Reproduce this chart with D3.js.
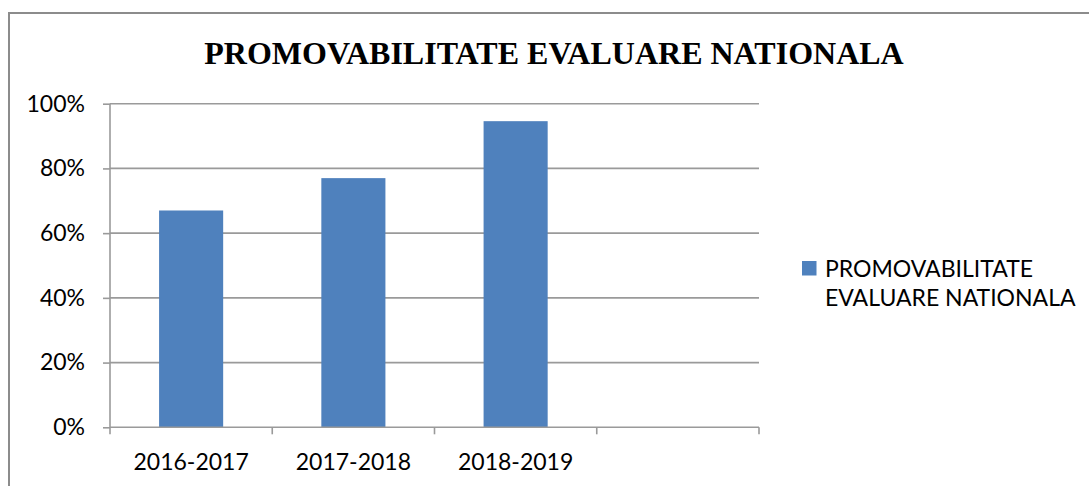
<!DOCTYPE html>
<html><head><meta charset="utf-8">
<script src="https://cdn.jsdelivr.net/npm/d3@7"></script>
<style>body{margin:0;background:#fff}svg{display:block}</style>
</head><body>
<script>
const categories = ["2016-2017", "2017-2018", "2018-2019", ""];
const values = [0.67, 0.77, 0.946, null];
const yTicks = [0, 0.2, 0.4, 0.6, 0.8, 1.0];
const title = "PROMOVABILITATE EVALUARE NATIONALA";
const seriesName = ["PROMOVABILITATE", "EVALUARE NATIONALA"];

(function () {
const W = 1089, H = 486;
const svg = d3.select("body").append("svg").attr("width", W).attr("height", H);

// outer chart border (right/bottom outside the frame)
svg.append("rect").attr("x", 9).attr("y", 13).attr("width", 1200).attr("height", 600)
  .attr("fill", "none").attr("stroke", "#8c8c8c").attr("stroke-width", 2);

svg.append("text").attr("x", 554).attr("y", 64).attr("text-anchor", "middle")
  .attr("font-family", "Liberation Serif, Times New Roman, serif").attr("font-weight", "bold")
  .attr("font-size", 32).attr("fill", "#000").text(title);

const pL = 110, pR = 759, pT = 103.7, pB = 427.3;
const x = d3.scaleBand().domain(d3.range(categories.length)).range([pL, pR]).paddingInner(0).paddingOuter(0);
const y = d3.scaleLinear().domain([0, 1]).range([pB, pT]);
const font = "Lato, Carlito, 'Open Sans', sans-serif";
const fs = 23;

// gridlines
svg.append("g").selectAll("line").data(yTicks.filter(d => d > 0)).join("line")
  .attr("x1", pL).attr("x2", pR).attr("y1", d => y(d)).attr("y2", d => y(d))
  .attr("stroke", "#9a9a9a").attr("stroke-width", 1.6);

// bars
const bw = x.bandwidth() * 0.395;
svg.append("g").selectAll("rect").data(values.map((v, i) => ({v, i})).filter(d => d.v != null)).join("rect")
  .attr("x", d => x(d.i) + (x.bandwidth() - bw) / 2).attr("width", bw)
  .attr("y", d => y(d.v)).attr("height", d => y(0) - y(d.v))
  .attr("fill", "#4f81bd");

// y axis
const yAxis = svg.append("g").attr("transform", `translate(${pL},0)`)
  .call(d3.axisLeft(y).tickValues(yTicks).tickFormat(d3.format(".0%")).tickSize(7).tickPadding(18));
yAxis.select(".domain").attr("stroke", "#9a9a9a").attr("stroke-width", 1.6).attr("d", `M0,${pT}V${pB}`);
yAxis.selectAll(".tick line").attr("stroke", "#9a9a9a").attr("stroke-width", 1.6);
yAxis.selectAll("text").attr("font-family", font).attr("font-size", fs).attr("fill", "#000");

// x axis
const xAxis = svg.append("g").attr("transform", `translate(0,${pB})`);
xAxis.append("line").attr("x1", pL).attr("x2", pR).attr("stroke", "#9a9a9a").attr("stroke-width", 1.6);
const bounds = d3.range(categories.length + 1).map(i => pL + i * x.step());
xAxis.selectAll(".tk").data(bounds).join("line").attr("class", "tk")
  .attr("x1", d => d).attr("x2", d => d).attr("y1", 0).attr("y2", 7)
  .attr("stroke", "#9a9a9a").attr("stroke-width", 1.6);
xAxis.selectAll("text").data(categories.map((c, i) => ({c, i}))).join("text")
  .attr("x", d => x(d.i) + x.bandwidth() / 2).attr("y", 43).attr("text-anchor", "middle")
  .attr("font-family", font).attr("font-size", fs).attr("fill", "#000").text(d => d.c);

// legend
svg.append("rect").attr("x", 802).attr("y", 261).attr("width", 14.5).attr("height", 14.5).attr("fill", "#4f81bd");
svg.append("text").attr("font-family", font).attr("font-size", fs).attr("fill", "#000")
  .selectAll("tspan").data(seriesName).join("tspan")
  .attr("x", 825).attr("y", (d, i) => 277 + i * 28.5).text(d => d);
})();
</script>
</body></html>
